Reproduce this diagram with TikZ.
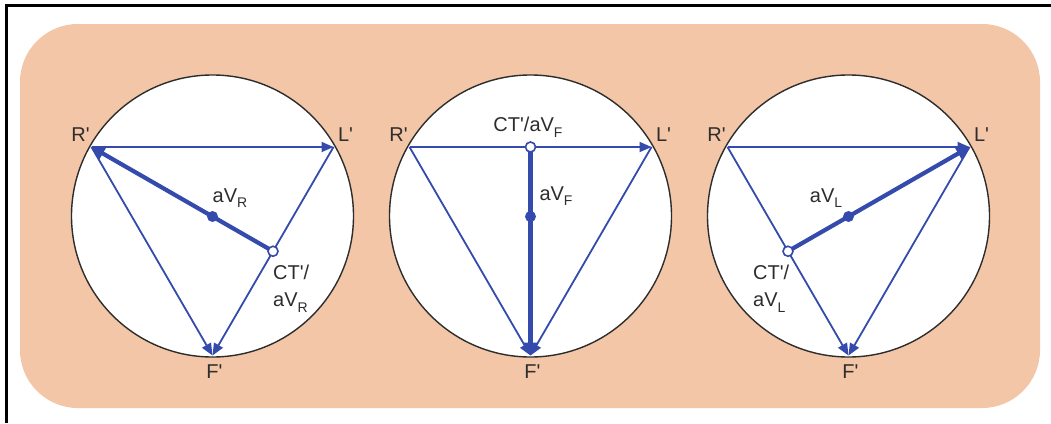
\documentclass[tikz,border=0pt]{standalone}
\usepackage{fontspec}
\setmainfont{Liberation Sans}
\usetikzlibrary{arrows.meta,calc}
\definecolor{vblue}{RGB}{52,74,172}
\definecolor{bgor}{RGB}{242,198,166}
\definecolor{txt}{RGB}{45,45,45}
\definecolor{rim}{RGB}{45,45,45}
\newcommand\qq{\textquotesingle}
\newcommand\sbs[1]{\raisebox{-0.28em}{\fontsize{14}{14}\selectfont #1}}
\begin{document}
\begin{tikzpicture}[x=1pt,y=-1pt,
  lbl/.style={text=txt,font=\fontsize{20}{27}\selectfont,inner sep=0pt},
  thinv/.style={draw=vblue,line width=1.8pt,-{Triangle[length=12pt,width=10pt]}},
  thickv/.style={draw=vblue,line width=4.2pt,-{Triangle[length=13pt,width=14pt]}},
  dot/.style={circle,fill=vblue,inner sep=0pt,minimum size=11pt},
  odot/.style={circle,fill=white,draw=vblue,line width=1.6pt,inner sep=0pt,minimum size=10pt},
  dial/.style={circle,fill=white,draw=rim,line width=1.4pt,inner sep=0pt,minimum size=282pt}]
\useasboundingbox (0,0) rectangle (1051,423);
\fill[white] (0,0) rectangle (1051,423);
% frame
\draw[black,line width=2.6pt] (6.3,423) -- (6.3,5.3) -- (1051,5.3);
% background
\fill[bgor,rounded corners=58pt] (20,24) rectangle (1040,408);
% circles
\foreach \i/\cx in {1/212.5,2/530.5,3/848.5}{
  \node[dial] (c\i) at (\cx,216) {};
  \coordinate (R\i) at (\cx-121,147);
  \coordinate (L\i) at (\cx+121,147);
  \coordinate (F\i) at (\cx,355.5);
}
% midpoints and centroids
\coordinate (M1) at ($(L1)!0.5!(F1)$);
\coordinate (M2) at ($(R2)!0.5!(L2)$);
\coordinate (M3) at ($(R3)!0.5!(F3)$);
\coordinate (G1) at ($(M1)!1/3!(R1)$);
\coordinate (G2) at ($(M2)!1/3!(F2)$);
\coordinate (G3) at ($(M3)!1/3!(L3)$);
% triangles
\foreach \i in {1,2,3}{
  \draw[thinv] (R\i) -- (L\i);
  \draw[thinv] (R\i) -- (F\i);
  \draw[thinv] (L\i) -- (F\i);
}
% leads
\draw[thickv] (M1) -- (R1);
\draw[thickv] (M2) -- (F2);
\draw[thickv] (M3) -- (L3);
\foreach \i in {1,2,3}{
  \node[dot] (g\i) at (G\i) {};
  \node[odot] (m\i) at (M\i) {};
}
% vertex labels
\foreach \i/\cx in {1/212.5,2/530.5,3/848.5}{
  \node[lbl] (lr\i) at (\cx-132,135) {R\qq};
  \node[lbl] (ll\i) at (\cx+133,135) {L\qq};
  \node[lbl] (lf\i) at (\cx+2,372) {F\qq};
}
% lead labels
\node[lbl] (a1) at (230,198) {aV\sbs{R}};
\node[lbl,align=left,anchor=north west] (t1) at (273,265) {CT\qq/\\aV\sbs{R}};
\node[lbl] (t2) at (528,127) {CT\qq/aV\sbs{F}};
\node[lbl] (a2) at (556,196) {aV\sbs{F}};
\node[lbl] (a3) at (826,198) {aV\sbs{L}};
\node[lbl,align=left,anchor=north west] (t3) at (753,265) {CT\qq/\\aV\sbs{L}};
\end{tikzpicture}
\end{document}
